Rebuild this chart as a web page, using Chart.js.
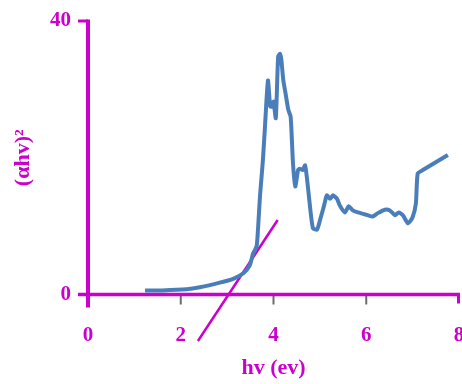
<!DOCTYPE html>
<html>
<head>
<meta charset="utf-8">
<script src="https://cdn.jsdelivr.net/npm/chart.js@4/dist/chart.umd.min.js"></script>
<style>
html,body{margin:0;padding:0;background:#fff;}
canvas{display:block;}
</style>
</head>
<body>
<canvas id="c" width="462" height="384"></canvas>
<script>
// Data
const hv = [1.23, 1.6, 2.13, 2.41, 2.84, 3.13, 3.35, 3.49, 3.56, 3.6, 3.64, 3.67, 3.71, 3.77, 3.82, 3.88, 3.93, 3.97, 4.0, 4.05, 4.1, 4.14, 4.17, 4.21, 4.27, 4.32, 4.37, 4.42, 4.47, 4.53, 4.57, 4.63, 4.68, 4.72, 4.78, 4.85, 4.94, 5.02, 5.09, 5.15, 5.22, 5.28, 5.37, 5.43, 5.54, 5.62, 5.71, 5.82, 5.93, 6.03, 6.14, 6.25, 6.4, 6.51, 6.62, 6.7, 6.79, 6.9, 7.0, 7.07, 7.11, 7.22, 7.76];
const alphaHv2 = [0.6, 0.6, 0.76, 1.05, 1.73, 2.3, 3.1, 4.3, 6.0, 6.5, 7.2, 10, 14.5, 19.5, 25, 31.3, 27.5, 27.5, 28.2, 25.8, 34.8, 35.2, 34.3, 31.4, 29, 27, 26, 19.2, 15.8, 18.2, 18.4, 18.2, 18.9, 17.1, 13.3, 9.7, 9.5, 11.3, 13.0, 14.5, 14.0, 14.5, 14.0, 13.0, 12.0, 12.9, 12.3, 12.0, 11.8, 11.6, 11.4, 11.9, 12.4, 12.3, 11.6, 12.0, 11.6, 10.4, 11.3, 13.3, 17.7, 18.2, 20.4];
const tangentX = [2.37, 4.09];
const tangentY = [-6.8, 10.9];
const xTicks = [0, 2, 4, 6, 8];
const yTicks = [0, 40];

const MAG = '#CC00CC';
const BLUE = '#4A7EBB';

const axesPlugin = {
  id: 'axesPlugin',
  beforeDatasetsDraw(chart) {
    const ctx = chart.ctx;
    const xs = chart.scales.x, ys = chart.scales.y;
    const x0 = xs.getPixelForValue(0), x8 = xs.getPixelForValue(8);
    const y0 = ys.getPixelForValue(0), y40 = ys.getPixelForValue(40);
    ctx.save();
    ctx.lineCap = 'butt';
    // minor tick marks on x axis (grey)
    ctx.strokeStyle = '#6b6b6b';
    ctx.lineWidth = 2;
    [2, 4, 6].forEach(v => {
      const px = xs.getPixelForValue(v);
      ctx.beginPath(); ctx.moveTo(px, y0); ctx.lineTo(px, y0 + 10); ctx.stroke();
    });
    ctx.strokeStyle = MAG;
    ctx.lineWidth = 3;
    // end tick at 8
    ctx.beginPath(); ctx.moveTo(x8 - 0.5, y0); ctx.lineTo(x8 - 0.5, y0 + 9); ctx.stroke();
    // y ticks at 0 and 40
    ctx.beginPath(); ctx.moveTo(x0 - 10, y0); ctx.lineTo(x0, y0); ctx.stroke();
    ctx.beginPath(); ctx.moveTo(x0 - 10, y40); ctx.lineTo(x0, y40); ctx.stroke();
    // axes
    ctx.lineWidth = 4;
    ctx.beginPath(); ctx.moveTo(x0, y40 - 1.5); ctx.lineTo(x0, y0 + 13); ctx.stroke();
    ctx.lineWidth = 3.5;
    ctx.beginPath(); ctx.moveTo(x0 - 10, y0); ctx.lineTo(x8 + 1, y0); ctx.stroke();
    ctx.restore();
  }
};

new Chart(document.getElementById('c'), {
  type: 'line',
  data: {
    datasets: [
      {
        data: hv.map((x, i) => ({x: x, y: alphaHv2[i]})),
        borderColor: BLUE,
        borderWidth: 4,
        pointRadius: 0,
        tension: 0.2,
        fill: false,
        clip: false
      },
      {
        data: tangentX.map((x, i) => ({x: x, y: tangentY[i]})),
        borderColor: MAG,
        borderWidth: 2.5,
        pointRadius: 0,
        tension: 0,
        fill: false,
        clip: false
      }
    ]
  },
  options: {
    responsive: false,
    animation: false,
    events: [],
    layout: {padding: {left: 0, right: 3, top: 21, bottom: 0}},
    plugins: {legend: {display: false}, tooltip: {enabled: false}},
    scales: {
      x: {
        type: 'linear',
        min: 0, max: 8,
        afterBuildTicks(scale) { scale.ticks = xTicks.map(v => ({value: v})); },
        afterFit(scale) { scale.height = 89.5; scale.paddingLeft = 0; scale.paddingRight = 0; },
        grid: {display: false, drawTicks: false},
        border: {display: false},
        ticks: {
          color: MAG,
          padding: 28,
          maxRotation: 0,
          font: {family: '"Liberation Serif", "Times New Roman", serif', size: 21, weight: 'bold'}
        },
        title: {
          display: true,
          text: 'hv (ev)',
          color: MAG,
          padding: {top: 4, bottom: 2},
          font: {family: '"Liberation Serif", "Times New Roman", serif', size: 22, weight: 'bold'}
        }
      },
      y: {
        type: 'linear',
        min: 0, max: 40,
        afterBuildTicks(scale) { scale.ticks = yTicks.map(v => ({value: v})); },
        afterFit(scale) { scale.width = 88; scale.paddingTop = 0; scale.paddingBottom = 0; },
        grid: {display: false, drawTicks: false},
        border: {display: false},
        ticks: {
          color: MAG,
          padding: 17,
          font: {family: '"Liberation Serif", "Times New Roman", serif', size: 21, weight: 'bold'}
        },
        title: {
          display: true,
          text: '(αhv)²',
          color: MAG,
          padding: {top: 10, bottom: 4},
          font: {family: '"Liberation Serif", "Times New Roman", serif', size: 22, weight: 'bold'}
        }
      }
    }
  },
  plugins: [axesPlugin]
});
</script>
</body>
</html>
